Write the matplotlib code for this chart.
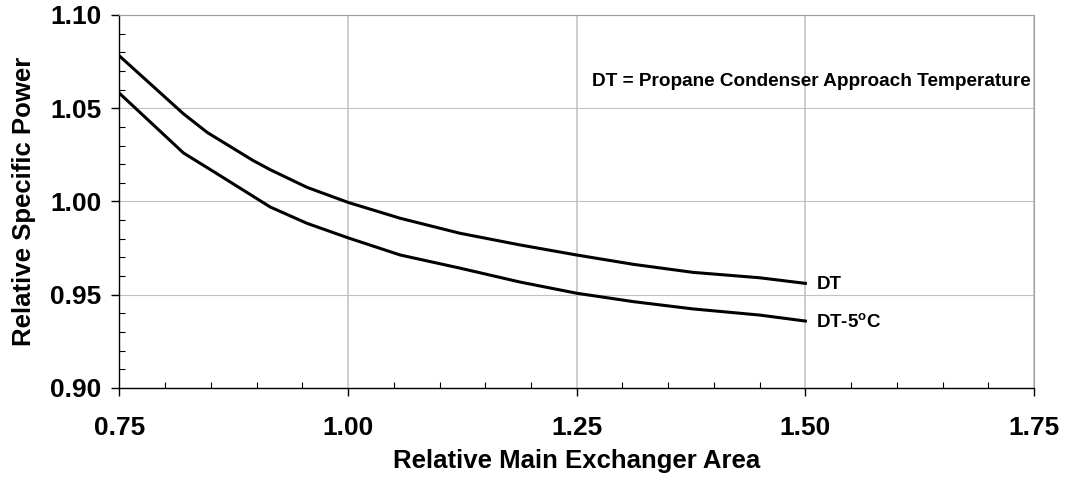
import matplotlib
matplotlib.use("Agg")
import matplotlib.pyplot as plt
from matplotlib.ticker import MultipleLocator, FormatStrFormatter

plt.rcParams['font.family'] = ['Liberation Sans', 'DejaVu Sans']
plt.rcParams['font.weight'] = 'bold'

# Data
dt_x = [0.75, 0.82, 0.846, 0.896, 0.915, 0.955, 1.00, 1.057, 1.122, 1.188, 1.25, 1.312, 1.377, 1.45, 1.50]
dt_y = [1.078, 1.047, 1.037, 1.022, 1.017, 1.0076, 0.9995, 0.991, 0.983, 0.9767, 0.9713, 0.9663, 0.962, 0.9591, 0.9561]

dt5_x = [0.75, 0.82, 0.853, 0.915, 0.955, 1.00, 1.057, 1.122, 1.188, 1.25, 1.312, 1.377, 1.45, 1.50]
dt5_y = [1.058, 1.026, 1.016, 0.997, 0.9883, 0.9805, 0.9713, 0.9643, 0.9568, 0.9508, 0.9463, 0.9424, 0.9391, 0.9359]

series_labels = ["DT", "DT-5$^{\\mathregular{o}}$C"]
note = "DT = Propane Condenser Approach Temperature"
xlabel = "Relative Main Exchanger Area"
ylabel = "Relative Specific Power"

fig = plt.figure(figsize=(10.65, 4.79), dpi=100)
ax = fig.add_axes([0.1122, 0.19, 0.8587, 0.7787])

ax.set_xlim(0.75, 1.75)
ax.set_ylim(0.90, 1.10)

ax.xaxis.set_major_locator(MultipleLocator(0.25))
ax.xaxis.set_minor_locator(MultipleLocator(0.05))
ax.yaxis.set_major_locator(MultipleLocator(0.05))
ax.yaxis.set_minor_locator(MultipleLocator(0.01))
ax.xaxis.set_major_formatter(FormatStrFormatter('%.2f'))
ax.yaxis.set_major_formatter(FormatStrFormatter('%.2f'))

grid_c = '#c0c0c0'
ax.grid(axis='x', which='major', color=grid_c, lw=1.1)
ax.grid(axis='y', which='major', color=grid_c, lw=0.8)
ax.set_axisbelow(True)

for s in ['top', 'right']:
    ax.spines[s].set_color('#a0a0a0')
    ax.spines[s].set_linewidth(0.8)
for s in ['left', 'bottom']:
    ax.spines[s].set_color('black')
    ax.spines[s].set_linewidth(1.0)

ax.tick_params(which='major', direction='out', length=6, width=1.0, labelsize=19)
ax.tick_params(which='minor', direction='in', length=4.5, width=0.8)
ax.tick_params(axis='x', which='major', pad=14)
ax.tick_params(axis='y', which='major', pad=7)
for lab in ax.get_xticklabels() + ax.get_yticklabels():
    lab.set_fontweight('bold')

ax.plot(dt_x, dt_y, color='black', lw=2.2, solid_joinstyle='round')
ax.plot(dt5_x, dt5_y, color='black', lw=2.2, solid_joinstyle='round')

ax.annotate(series_labels[0], (dt_x[-1], dt_y[-1]), xytext=(11, -1), textcoords='offset pixels',
            ha='left', va='center', fontsize=13.5, fontweight='bold')
ax.annotate(series_labels[1], (dt5_x[-1], dt5_y[-1]), xytext=(11, -2), textcoords='offset pixels',
            ha='left', va='center', fontsize=13.5, fontweight='bold')

ax.text(0.9965, 0.823, note, transform=ax.transAxes, ha='right', va='center',
        fontsize=13.7, fontweight='bold')

ax.set_xlabel(xlabel, fontsize=18.5, fontweight='bold', labelpad=7)
ax.set_ylabel(ylabel, fontsize=18.5, fontweight='bold', labelpad=10)

fig.savefig('out.png', dpi=100)
